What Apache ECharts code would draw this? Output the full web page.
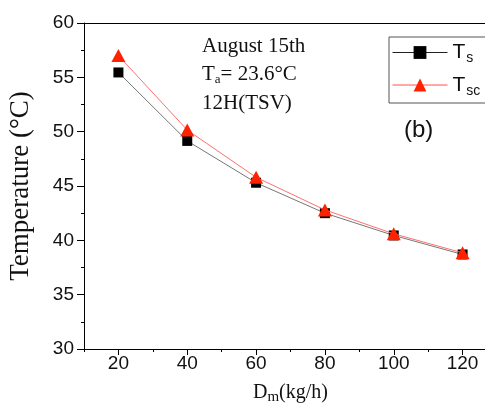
<!DOCTYPE html>
<html>
<head>
<meta charset="utf-8">
<script src="https://cdn.jsdelivr.net/npm/echarts@6/dist/echarts.min.js"></script>
<style>html,body{margin:0;padding:0;background:#fff}#c{width:485px;height:405px}</style>
</head>
<body>
<div id="c"></div>
<script>
const flowRates = [20, 40, 60, 80, 100, 120];
const tsValues = [55.45, 49.15, 45.3, 42.5, 40.45, 38.7];
const tscValues = [57.0, 50.15, 45.8, 42.8, 40.6, 38.85];
const xTickValues = [20, 40, 60, 80, 100, 120];
const xMinorTickValues = [10, 30, 50, 70, 90, 110, 130];
const yTickValues = [30, 35, 40, 45, 50, 55, 60];

const chart = echarts.init(document.getElementById('c'), null, {renderer: 'canvas'});
const sans = 'Arial, "Liberation Sans", sans-serif';
const serif = '"Times New Roman", "Liberation Serif", serif';

const option = {
  animation: false,
  backgroundColor: '#fff',
  grid: {left: 84, top: 23, right: -12, bottom: 56, containLabel: false, outerBoundsMode: 'none'},
  legend: {
    orient: 'vertical',
    left: 389, top: 37,
    padding: [5, 60, 5, 3],
    itemGap: 9,
    itemWidth: 55, itemHeight: 16,
    borderColor: '#555', borderWidth: 1,
    data: [
      {name: 'Ts', lineStyle: {color: '#222', width: 1}},
      {name: 'Tsc', lineStyle: {color: '#ff5050', width: 1}}
    ],
    formatter: function (n) {
      return n === 'Ts' ? '{t|T}{s|s}' : '{t|T}{s|sc}';
    },
    textStyle: {
      rich: {
        t: {fontFamily: sans, fontSize: 21, color: '#111', lineHeight: 26},
        s: {fontFamily: sans, fontSize: 14, color: '#111', padding: [12, 0, 0, 1]}
      }
    }
  },
  xAxis: [
    {
      type: 'value', min: 10, max: 130, position: 'bottom',
      axisLine: {show: true, lineStyle: {color: '#000', width: 1}},
      axisTick: {show: true, inside: false, length: 6, customValues: xTickValues, lineStyle: {color: '#000'}},
      axisLabel: {customValues: xTickValues, fontFamily: sans, fontSize: 19, color: '#111', margin: 5},
      splitLine: {show: false},
      name: '{a|D}{b|m}{a|(kg/h)}',
      nameLocation: 'middle', nameGap: 32,
      nameTextStyle: {
        rich: {
          a: {fontFamily: serif, fontSize: 20, color: '#111'},
          b: {fontFamily: serif, fontSize: 15, color: '#111', padding: [9, 0, 0, 0]}
        }
      }
    },
    {
      type: 'value', min: 10, max: 130, position: 'bottom',
      axisLine: {show: false},
      axisTick: {show: true, inside: false, length: 3, customValues: xMinorTickValues, lineStyle: {color: '#000'}},
      axisLabel: {show: false},
      splitLine: {show: false}
    },
    {
      type: 'value', min: 10, max: 130, position: 'top',
      axisLine: {show: true, lineStyle: {color: '#000', width: 1}},
      axisTick: {show: false}, axisLabel: {show: false}, splitLine: {show: false}
    }
  ],
  yAxis: {
    type: 'value', min: yTickValues[0], max: yTickValues[yTickValues.length - 1], interval: 5,
    axisLine: {show: true, lineStyle: {color: '#000', width: 1}},
    axisTick: {show: true, inside: false, length: 7, lineStyle: {color: '#000'}},
    minorTick: {show: true, splitNumber: 2, length: 3, lineStyle: {color: '#000'}},
    axisLabel: {fontFamily: sans, fontSize: 19, color: '#111', margin: 10},
    splitLine: {show: false}, minorSplitLine: {show: false},
    name: 'Temperature (°C)', nameLocation: 'middle', nameRotate: 90, nameGap: 50,
    nameTextStyle: {fontFamily: serif, fontSize: 27, color: '#111'}
  },
  series: [
    {
      name: 'Ts', type: 'line', xAxisIndex: 0,
      data: flowRates.map((x, i) => [x, tsValues[i]]),
      symbol: 'rect', symbolSize: 10,
      itemStyle: {color: '#000'},
      lineStyle: {color: '#777', width: 1},
      z: 2
    },
    {
      name: 'Tsc', type: 'line', xAxisIndex: 0,
      data: flowRates.map((x, i) => [x, tscValues[i]]),
      symbol: 'triangle', symbolSize: [14, 13],
      itemStyle: {color: '#ff2200'},
      lineStyle: {color: '#ff7070', width: 1},
      z: 3
    }
  ],
  graphic: [
    {type: 'text', left: 202, top: 36, style: {text: 'August 15th', font: '21px ' + serif, fill: '#111'}},
    {type: 'text', left: 202, top: 64, style: {
      text: '{a|T}{b|a}{a|= 23.6°C}',
      rich: {
        a: {fontFamily: serif, fontSize: 21, fill: '#111', color: '#111'},
        b: {fontFamily: serif, fontSize: 13, fill: '#111', color: '#111', padding: [10, 0, 0, 0]}
      }
    }},
    {type: 'text', left: 202, top: 93, style: {text: '12H(TSV)', font: '21px ' + serif, fill: '#111'}},
    {type: 'text', left: 404, top: 118, style: {text: '(b)', font: '24px ' + sans, fill: '#111'}}
  ]
};
chart.setOption(option);
</script>
</body>
</html>
